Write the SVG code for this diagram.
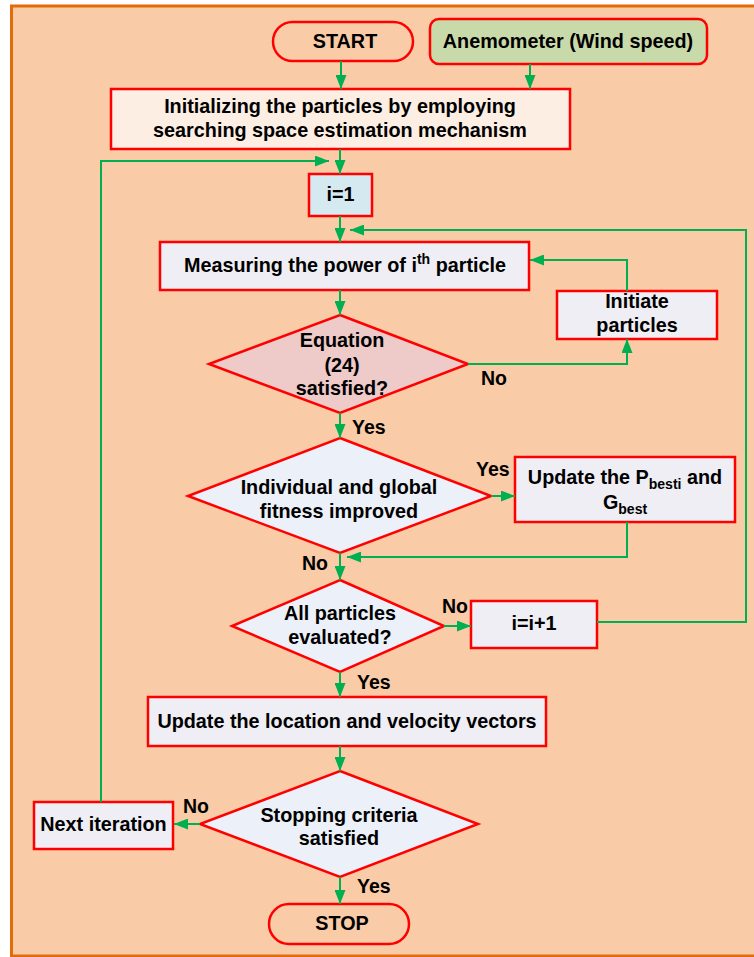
<svg xmlns="http://www.w3.org/2000/svg" width="754" height="957" viewBox="0 0 754 957">
<defs>
<marker id="ah" markerUnits="userSpaceOnUse" markerWidth="14" markerHeight="11" refX="14" refY="5.5" orient="auto">
<path d="M0,0 L14,5.5 L0,11 z" fill="#00B050"/>
</marker>
<style>
.t{font-family:"Liberation Sans",Arial,sans-serif;font-weight:bold;font-size:19.8px;fill:#000;text-anchor:middle}
.l{font-family:"Liberation Sans",Arial,sans-serif;font-weight:bold;font-size:19.5px;fill:#000}
.b{stroke:#FF0000;stroke-width:2.5}
.box{fill:#EFEEF5}
.dia{fill:#ECF0F8}
.c{fill:none;stroke:#00B050;stroke-width:2;marker-end:url(#ah)}
.sub{font-size:14px}
</style>
</defs>
<rect x="0" y="0" width="754" height="957" fill="#FFFFFF"/>
<rect x="11.5" y="6" width="760" height="950" fill="#F9CBA7" stroke="#E26B0A" stroke-width="3"/>

<g id="start">
<rect class="b" x="273" y="22" width="140" height="39" rx="19.5" fill="#F9CBA7"/>
<text class="t" x="345" y="48">START</text>
</g>
<g id="anemometer">
<rect class="b" x="430" y="19" width="277" height="45" rx="9" fill="#C9DAAA"/>
<text class="t" x="568" y="48">Anemometer (Wind speed)</text>
</g>
<g id="init">
<rect class="b" x="111" y="89" width="459" height="60" fill="#FDEEE4"/>
<text class="t" x="340" y="113">Initializing the particles by employing</text>
<text class="t" x="340" y="137">searching space estimation mechanism</text>
</g>
<g id="i1">
<rect class="b" x="309" y="174" width="63" height="42" fill="#D5E9F0"/>
<text class="t" x="340.5" y="201">i=1</text>
</g>
<g id="measure">
<rect class="b box" x="160" y="242" width="369" height="48"/>
<text class="t" x="345" y="272">Measuring the power of i<tspan class="sub" dy="-8">th</tspan><tspan dy="8"> particle</tspan></text>
</g>
<g id="initiate">
<rect class="b box" x="557" y="291" width="160" height="48"/>
<text class="t" x="637" y="308">Initiate</text>
<text class="t" x="637" y="332">particles</text>
</g>
<g id="eq">
<polygon class="b" points="340,315 468,364 340,413 209,364" fill="#EECAC8"/>
<text class="t" x="342" y="347">Equation</text>
<text class="t" x="342" y="372">(24)</text>
<text class="t" x="342" y="395">satisfied?</text>
</g>
<g id="fitness">
<polygon class="b dia" points="340,438 491,496 340,553 188,496"/>
<text class="t" x="339" y="494">Individual and global</text>
<text class="t" x="339" y="518">fitness improved</text>
</g>
<g id="update">
<rect class="b box" x="515" y="457" width="220" height="65"/>
<text class="t" x="625" y="484">Update the P<tspan class="sub" dy="5">besti</tspan><tspan dy="-5"> and</tspan></text>
<text class="t" x="625" y="509">G<tspan class="sub" dy="5">best</tspan></text>
</g>
<g id="allpart">
<polygon class="b dia" points="340,580 444,626 340,672 232,626"/>
<text class="t" x="340" y="620">All particles</text>
<text class="t" x="340" y="644">evaluated?</text>
</g>
<g id="iinc">
<rect class="b box" x="471" y="601" width="126" height="47"/>
<text class="t" x="534" y="630">i=i+1</text>
</g>
<g id="updloc">
<rect class="b box" x="148" y="697" width="398" height="49"/>
<text class="t" x="347" y="728">Update the location and velocity vectors</text>
</g>
<g id="stopcrit">
<polygon class="b dia" points="340,771 478,824 340,877 200,824"/>
<text class="t" x="339" y="822">Stopping criteria</text>
<text class="t" x="339" y="845">satisfied</text>
</g>
<g id="next">
<rect class="b box" x="34" y="802" width="139" height="47"/>
<text class="t" x="103.5" y="831">Next iteration</text>
</g>
<g id="stop">
<rect class="b" x="269" y="904" width="140" height="40" rx="20" fill="#F9CBA7"/>
<text class="t" x="342" y="930">STOP</text>
</g>

<g id="connectors">
<path class="c" d="M341,61 L341,89"/>
<path class="c" d="M530,64 L530,89"/>
<path class="c" d="M340,149 L340,174"/>
<path class="c" d="M101,802 L101,161 L329,161"/>
<path class="c" d="M340,216 L340,242"/>
<path class="c" d="M597,622 L746,622 L746,230 L350,230"/>
<path class="c" d="M340,290 L340,315"/>
<path class="c" d="M468,364 L627,364 L627,339"/>
<path class="c" d="M627,291 L627,260 L530,260"/>
<path class="c" d="M340,413 L340,438"/>
<path class="c" d="M491,496 L515,496"/>
<path class="c" d="M627,522 L627,557 L347,557"/>
<path class="c" d="M340,553 L340,580"/>
<path class="c" d="M444,626 L471,626"/>
<path class="c" d="M340,672 L340,697"/>
<path class="c" d="M340,746 L340,771"/>
<path class="c" d="M200,824 L174,824"/>
<path class="c" d="M340,877 L340,904"/>
</g>
<g id="labels">
<text class="l" x="481" y="385">No</text>
<text class="l" x="352" y="434">Yes</text>
<text class="l" x="476" y="476">Yes</text>
<text class="l" x="302" y="570">No</text>
<text class="l" x="442" y="613">No</text>
<text class="l" x="357" y="689">Yes</text>
<text class="l" x="183" y="813">No</text>
<text class="l" x="357" y="893">Yes</text>
</g>
</svg>
